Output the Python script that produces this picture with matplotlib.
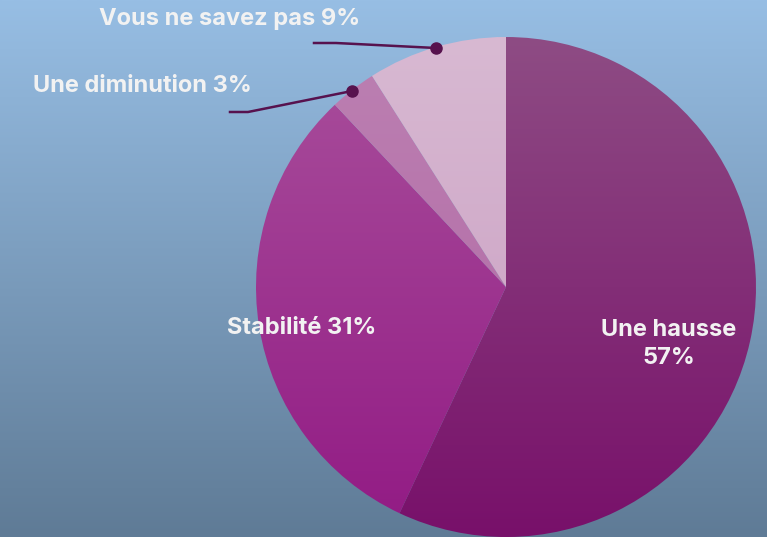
import numpy as np
import matplotlib
matplotlib.use("Agg")
import matplotlib.pyplot as plt
from matplotlib.colors import LinearSegmentedColormap

labels = ["Une hausse", "Stabilité", "Une diminution", "Vous ne savez pas"]
values = [57, 31, 3, 9]
label_texts = ["Une hausse\n57%", "Stabilité 31%", "Une diminution 3%", "Vous ne savez pas 9%"]
top_colors = ["#8E4C84", "#A9509C", "#BC80B2", "#D8B9D2"]
bot_colors = ["#78106A", "#921A84", "#B066A3", "#C89BC0"]

W, H = 767, 537
fig = plt.figure(figsize=(W / 100, H / 100), dpi=100)
ax = fig.add_axes([0, 0, 1, 1])
ax.set_xlim(0, W)
ax.set_ylim(0, H)
ax.axis("off")

# background gradient
bg = LinearSegmentedColormap.from_list("bg", ["#5F7B96", "#97BEE4"])
grad = np.linspace(0, 1, 256).reshape(-1, 1)
ax.imshow(grad, cmap=bg, extent=[0, W, 0, H], origin="lower", aspect="auto", zorder=0)

cx, cy, R = 506, 250, 250
wedges, _ = ax.pie(values, startangle=90, counterclock=False, radius=R,
                   center=(cx, cy), wedgeprops=dict(linewidth=0), frame=True)
ax.set_xlim(0, W)
ax.set_ylim(0, H)
ax.axis("off")
ax.set_aspect("auto")

for w, tc, bc in zip(wedges, top_colors, bot_colors):
    w.set_facecolor("none")
    cm = LinearSegmentedColormap.from_list("c", [bc, tc])
    im = ax.imshow(grad, cmap=cm, extent=[cx - R, cx + R, cy - R, cy + R],
                   origin="lower", aspect="auto", zorder=2)
    im.set_clip_path(w)

txt = dict(color="#F2F2F2", fontsize=17, fontweight="bold", family=["Inter", "DejaVu Sans"],
           ha="center", va="center", zorder=5)

ax.text(669, H - 344, label_texts[0], linespacing=1.3, **txt)
ax.text(302, H - 328, label_texts[1], **txt)
ax.text(142, H - 86, label_texts[2], **txt)
ax.text(230, H - 19, label_texts[3], **txt)

lc = "#57124E"
ax.plot([230, 248, 352], [H - 112, H - 112, H - 91], color=lc, lw=1.8, zorder=4)
ax.plot([352], [H - 91], "o", color=lc, ms=8, zorder=4)
ax.plot([314, 336, 436], [H - 43, H - 43, H - 48], color=lc, lw=1.8, zorder=4)
ax.plot([436], [H - 48], "o", color=lc, ms=8, zorder=4)

fig.savefig("out.png", dpi=100)
